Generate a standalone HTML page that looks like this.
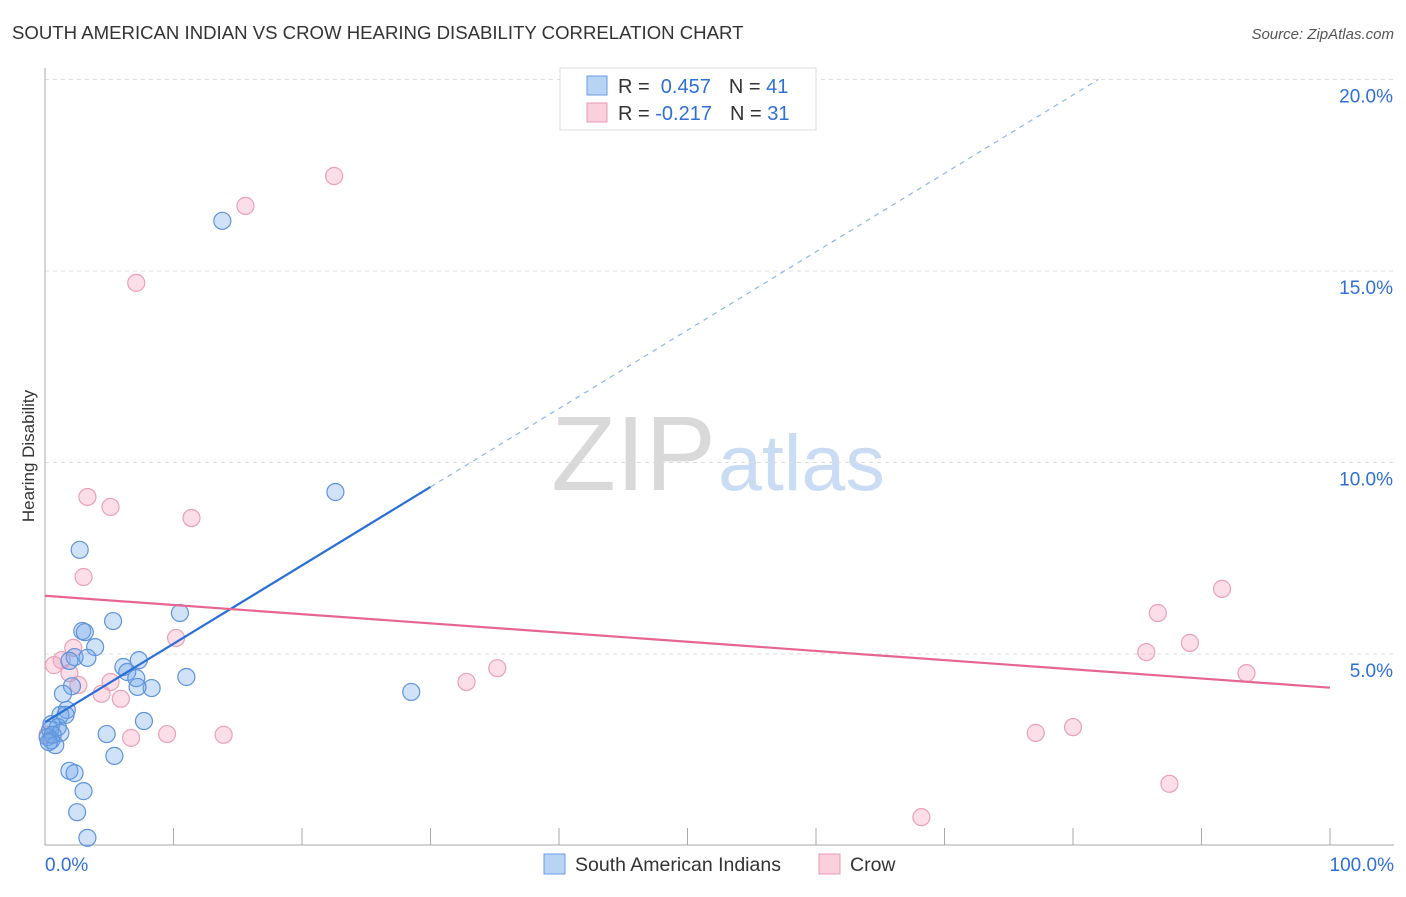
<!DOCTYPE html>
<html><head><meta charset="utf-8"><style>
body{margin:0;background:#fff;font-family:"Liberation Sans",sans-serif;}
svg text{font-family:"Liberation Sans",sans-serif;}
</style></head><body>
<svg id="chart" width="1406" height="892" xmlns="http://www.w3.org/2000/svg">
<text x="12" y="39" font-size="18.6" fill="#333">SOUTH AMERICAN INDIAN VS CROW HEARING DISABILITY CORRELATION CHART</text>
<text x="1394" y="39" font-size="15" fill="#555" text-anchor="end" font-style="italic">Source: ZipAtlas.com</text>
<text x="716" y="490" font-size="106" text-anchor="end" fill="#d9d9d9" font-family="Liberation Serif">ZIP</text>
<text x="718" y="490" font-size="79" fill="#c9dcf3">atlas</text>
<text transform="translate(34,456) rotate(-90)" font-size="17" fill="#333" text-anchor="middle">Hearing Disability</text>
<g id="grid"></g><g id="axes"></g><g id="marks"></g>
<g>
<rect x="560" y="68" width="256" height="62" fill="#fff" stroke="#ddd"/>
<rect x="587" y="76" width="20" height="19" fill="#b8d4f5" stroke="#6a9be0"/>
<rect x="587" y="103" width="20" height="19" fill="#fbd0dc" stroke="#ea9ab4"/>
<text x="618" y="93" font-size="20" fill="#333">R = <tspan fill="#2f6fd6">&#160;0.457</tspan><tspan dx="18" fill="#333">N = </tspan><tspan fill="#2f6fd6">41</tspan></text>
<text x="618" y="120" font-size="20" fill="#333">R = <tspan fill="#2f6fd6">-0.217</tspan><tspan dx="18" fill="#333">N = </tspan><tspan fill="#2f6fd6">31</tspan></text>
</g>
<g>
<rect x="544" y="854" width="21" height="20" fill="#b8d4f5" stroke="#6a9be0"/>
<text x="575" y="871" font-size="19.5" fill="#333">South American Indians</text>
<rect x="819" y="854" width="21" height="20" fill="#fbd0dc" stroke="#ea9ab4"/>
<text x="850" y="871" font-size="19.5" fill="#333">Crow</text>
</g>
</svg>
<script>
const blueX=[13.8,22.6,2.7,5.3,10.5,2.9,3.1,3.9,2.3,3.3,1.9,6.1,7.3,6.4,7.1,11.0,8.3,7.2,2.1,1.4,28.5,1.7,1.2,1.6,0.5,1.0,0.4,1.2,0.2,0.5,0.8,4.8,7.7,5.4,1.9,2.3,3.0,2.5,3.3,0.6,0.3];
const blueY=[16.31,9.23,7.72,5.86,6.07,5.60,5.57,5.18,4.92,4.90,4.82,4.66,4.84,4.53,4.37,4.40,4.11,4.14,4.16,3.96,4.01,3.54,3.41,3.41,3.17,3.09,3.02,2.94,2.83,2.75,2.62,2.91,3.25,2.34,1.95,1.89,1.42,0.87,0.20,2.89,2.70];
const pinkX=[22.5,15.6,7.1,3.3,5.1,11.4,3.0,91.6,86.6,89.1,85.7,10.2,2.2,1.3,0.7,1.9,2.6,35.2,32.8,5.1,4.4,5.9,93.5,6.7,9.5,13.9,77.1,80.0,87.5,68.2,0.2];
const pinkY=[17.48,16.70,14.69,9.10,8.84,8.55,7.01,6.70,6.07,5.29,5.05,5.42,5.16,4.84,4.71,4.50,4.19,4.63,4.27,4.27,3.96,3.83,4.50,2.81,2.91,2.89,2.94,3.09,1.61,0.74,2.89];
const yTicks=[5,10,15,20];
const yTickLabels=["5.0%","10.0%","15.0%","20.0%"];
const xTicks=[0,10,20,30,40,50,60,70,80,90,100];
const blueTrend=[3.22,0.2047];
const blueSolidEnd=30;
const pinkTrend=[6.52,4.12];
const NS="http://www.w3.org/2000/svg";
const sx=v=>45+v*12.85, sy=v=>845.5-v*38.3;
function mk(tag,attrs,parent){const e=document.createElementNS(NS,tag);for(const k in attrs)e.setAttribute(k,attrs[k]);parent.appendChild(e);return e;}
const grid=document.getElementById('grid'),axes=document.getElementById('axes'),marks=document.getElementById('marks');
yTicks.forEach((t,i)=>{
 const l=mk('line',{x1:45,x2:1394,y1:sy(t),y2:sy(t),stroke:'#ddd','stroke-dasharray':'4,4'},grid);
 
 
 const tx=mk('text',{x:1393,y:sy(t)+23,'font-size':19,fill:'#2f6fd6','text-anchor':'end'},axes);
 tx.textContent=yTickLabels[i];
 
 
});
const xa=mk('line',{x1:45,x2:1394,y1:845,y2:845,stroke:'#aaa'},axes);


const ya=mk('line',{x1:45,x2:45,y1:68,y2:845,stroke:'#aaa'},axes);


xTicks.forEach(t=>{
 const l=mk('line',{x1:sx(t),x2:sx(t),y1:828,y2:845,stroke:'#aaa'},axes);
 
 
});
[[0,'0.0%','start',45],[100,'100.0%','end',1394]].forEach(a=>{
 const tx=mk('text',{x:a[3],y:871,'font-size':19,fill:'#2f6fd6','text-anchor':a[2]},axes);
 tx.textContent=a[1];
 
 
});
function pts(X,Y,fill,stroke,name){X.forEach((x,i)=>{
 const c=mk('circle',{cx:sx(x),cy:sy(Y[i]),r:8.5,fill:fill,stroke:stroke,'stroke-width':1.2},marks);
 
 
});}
pts(pinkX,pinkY,'rgba(244,160,188,0.35)','#eaa0b8','crow-point');
pts(blueX,blueY,'rgba(110,165,232,0.32)','#5f93db','south-american-indian-point');
const bx2=(20-blueTrend[0])/blueTrend[1];
const bd=mk('line',{x1:sx(blueSolidEnd),y1:sy(blueTrend[0]+blueTrend[1]*blueSolidEnd),x2:sx(bx2),y2:sy(20),stroke:'#8fb4e8','stroke-dasharray':'5,5','stroke-width':1.2},marks);


const bs=mk('line',{x1:sx(0),y1:sy(blueTrend[0]),x2:sx(blueSolidEnd),y2:sy(blueTrend[0]+blueTrend[1]*blueSolidEnd),stroke:'#2a6fd8','stroke-width':2.2},marks);


const pl=mk('line',{x1:sx(0),y1:sy(pinkTrend[0]),x2:sx(100),y2:sy(pinkTrend[1]),stroke:'#e6668f','stroke-width':2.2},marks);


</script>
</body></html>
